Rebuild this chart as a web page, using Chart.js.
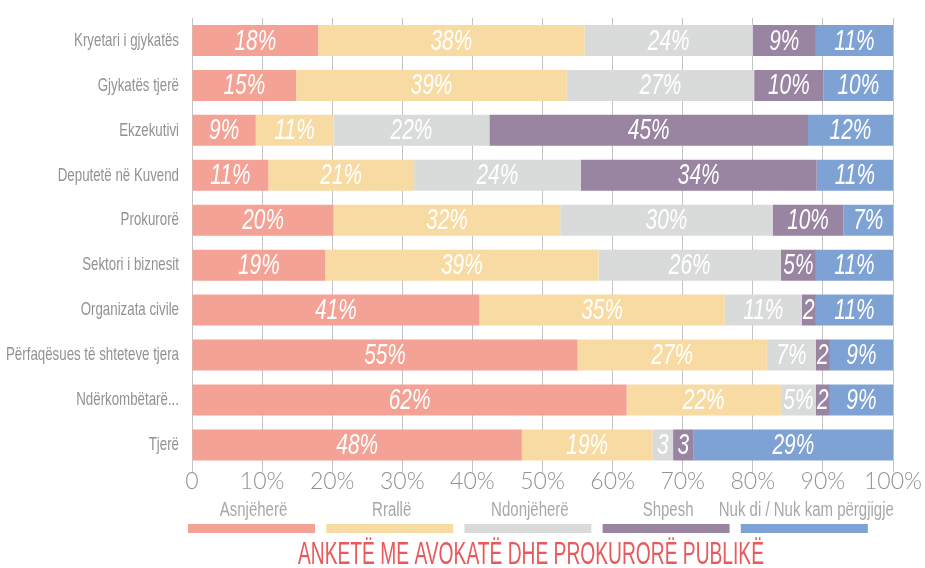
<!DOCTYPE html>
<html>
<head>
<meta charset="utf-8">
<title>Anketë me avokatë dhe prokurorë publikë</title>
<script src="https://cdn.jsdelivr.net/npm/chart.js@4.4.1/dist/chart.umd.min.js"></script>
<style>
    html, body { margin: 0; padding: 0; background: #ffffff; }
    #chartBox { width: 925px; height: 568px; }
</style>
</head>
<body>

<div id="chartBox">
    <canvas id="surveyChart" width="925" height="568"></canvas>
</div>

<script>

/* =========================
   DATA
========================= */

const categories = [
    "Kryetari i gjykatës",
    "Gjykatës tjerë",
    "Ekzekutivi",
    "Deputetë në Kuvend",
    "Prokurorë",
    "Sektori i biznesit",
    "Organizata civile",
    "Përfaqësues të shteteve tjera",
    "Ndërkombëtarë...",
    "Tjerë"
];

const seriesNames = ["Asnjëherë", "Rrallë", "Ndonjëherë", "Shpesh", "Nuk di / Nuk kam përgjigje"];

const asnjehere  = [18, 15,  9, 11, 20, 19, 41, 55, 62, 48];
const ralle      = [38, 39, 11, 21, 32, 39, 35, 27, 22, 19];
const ndonjehere = [24, 27, 22, 24, 30, 26, 11,  7,  5,  3];
const shpesh     = [ 9, 10, 45, 34, 10,  5,  2,  2,  2,  3];
const nukDi      = [11, 10, 12, 11,  7, 11, 11,  9,  9, 29];

const xTicks = [0, 10, 20, 30, 40, 50, 60, 70, 80, 90, 100];

const chartTitle = "ANKETË ME AVOKATË DHE PROKURORË PUBLIKË";

const seriesColors = ["#f4a295", "#f8dba3", "#d9dbda", "#9984a2", "#7fa2d5"];

/* =========================
   HELPERS
========================= */

const allSeries = [asnjehere, ralle, ndonjehere, shpesh, nukDi];

// each bar is a 100% row, so share of the row total
const rowTotals = categories.map((c, i) =>
    allSeries.reduce((sum, s) => sum + s[i], 0)
);

function toShare(values){
    return values.map((v, i) => v / rowTotals[i] * 100);
}

function drawNarrow(ctx, text, x, y, sx, align){
    ctx.save();
    ctx.translate(x, y);
    ctx.scale(sx, 1);
    ctx.textAlign = align || "center";
    ctx.fillText(text, 0, 0);
    ctx.restore();
}

/* =========================
   PLUGINS
========================= */

const segmentLabels = {
    id: "segmentLabels",
    afterDatasetsDraw(chart){
        const ctx = chart.ctx;
        const sx = 0.72;
        ctx.save();
        ctx.font = "italic 29px 'Liberation Sans', Arial, sans-serif";
        ctx.fillStyle = "#ffffff";
        ctx.textBaseline = "middle";
        chart.data.datasets.forEach((ds, d) => {
            const meta = chart.getDatasetMeta(d);
            meta.data.forEach((bar, i) => {
                const raw = allSeries[d][i];
                const w = bar.x - bar.base;
                let txt = raw + "%";
                if(ctx.measureText(txt).width * sx > w - 2){
                    txt = String(raw);
                }
                drawNarrow(ctx, txt, (bar.x + bar.base) / 2, bar.y + 1, sx);
            });
        });
        ctx.restore();
    }
};

const sideLabels = {
    id: "sideLabels",
    afterDraw(chart){
        const ctx = chart.ctx;
        const yScale = chart.scales.y;
        ctx.save();
        ctx.font = "19px 'Liberation Sans', Arial, sans-serif";
        ctx.fillStyle = "#929292";
        ctx.textBaseline = "middle";
        categories.forEach((c, i) => {
            drawNarrow(ctx, c, 179, yScale.getPixelForValue(i), 0.7, "right");
        });
        ctx.restore();
    }
};

const bottomLegend = {
    id: "bottomLegend",
    afterDraw(chart){
        const ctx = chart.ctx;
        const startX = 188;
        const step = 138.2;
        const boxW = 127;
        ctx.save();
        ctx.font = "20px 'Liberation Sans', Arial, sans-serif";
        ctx.textBaseline = "middle";
        chart.data.datasets.forEach((ds, d) => {
            const x = startX + d * step;
            ctx.fillStyle = "#a8a8a8";
            drawNarrow(ctx, ds.label, x + boxW / 2 + 2, 510, 0.75);
            ctx.fillStyle = ds.backgroundColor;
            ctx.fillRect(x, 524, boxW, 9);
        });

        // title
        ctx.font = "32px 'Liberation Sans', Arial, sans-serif";
        ctx.fillStyle = "#e9585a";
        const tw = ctx.measureText(chartTitle).width;
        drawNarrow(ctx, chartTitle, 531, 555, 466 / tw);
        ctx.restore();
    }
};

/* =========================
   CHART
========================= */

function initChart(){

    const ctx = document.getElementById("surveyChart");

    new Chart(ctx, {

        type: "bar",

        data: {
            labels: categories,
            datasets: allSeries.map((s, d) => ({
                label: seriesNames[d],
                data: toShare(s),
                backgroundColor: seriesColors[d],
                borderWidth: 0,
                barPercentage: 0.69,
                categoryPercentage: 1
            }))
        },

        options: {
            indexAxis: "y",
            responsive: false,
            devicePixelRatio: 1,
            animation: false,
            layout: {
                padding: { left: 192, right: 32, top: 18, bottom: 78 }
            },
            plugins: {
                legend: { display: false },
                tooltip: { enabled: false }
            },
            scales: {
                x: {
                    stacked: true,
                    min: 0,
                    max: 100,
                    afterBuildTicks(axis){
                        axis.ticks = xTicks.map(v => ({ value: v }));
                    },
                    grid: {
                        color: "#c4c4c4",
                        lineWidth: 1,
                        tickLength: 5
                    },
                    border: { display: false },
                    ticks: {
                        padding: -5,
                        color: "#939393",
                        font: { family: "Lato, 'Liberation Sans', sans-serif", size: 23, weight: "300" },
                        callback: v => v === 0 ? "0" : v + "%"
                    }
                },
                y: {
                    display: false,
                    stacked: true
                }
            }
        },

        plugins: [segmentLabels, sideLabels, bottomLegend]

    });

}

document.addEventListener("DOMContentLoaded", () => {
    initChart();
});

</script>
</body>
</html>
